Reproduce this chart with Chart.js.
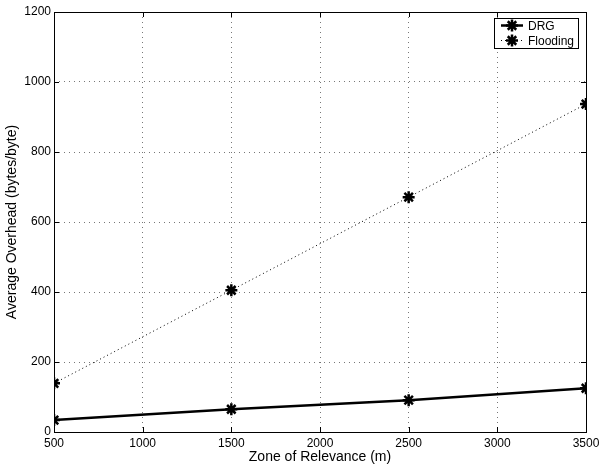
<!DOCTYPE html>
<html>
<head>
<meta charset="utf-8">
<script src="https://cdn.jsdelivr.net/npm/chart.js@4/dist/chart.umd.min.js"></script>
<style>
  html, body { margin: 0; padding: 0; background: #fff; }
  #wrap { width: 599px; height: 467px; }
</style>
</head>
<body>
<div id="wrap"><canvas id="myChart" width="599" height="467"></canvas></div>
<script>
// Data
const zones = [500, 1500, 2500, 3500];
const drgValues = [34, 65, 91, 125];
const floodingValues = [139, 405, 671, 937];
const xTicks = [500, 1000, 1500, 2000, 2500, 3000, 3500];
const yTicks = [0, 200, 400, 600, 800, 1000, 1200];

const FONT = "'Liberation Sans', Arial, Helvetica, sans-serif";

function toPoints(xs, ys) {
  return xs.map((x, i) => ({ x: x, y: ys[i] }));
}

// Frame, inward tick marks and the boxed legend
const framePlugin = {
  id: "frame",
  afterDraw(chart) {
    const ctx = chart.ctx;
    const a = chart.chartArea;
    const xs = chart.scales.x;
    const ys = chart.scales.y;
    ctx.save();
    ctx.strokeStyle = "#000";
    ctx.lineWidth = 1;
    ctx.setLineDash([]);
    ctx.strokeRect(a.left + 0.5, a.top + 0.5, a.right - a.left, a.bottom - a.top);

    // tick marks pointing inward
    ctx.beginPath();
    xTicks.forEach(v => {
      const px = Math.round(xs.getPixelForValue(v)) + 0.5;
      ctx.moveTo(px, a.bottom); ctx.lineTo(px, a.bottom - 5);
      ctx.moveTo(px, a.top); ctx.lineTo(px, a.top + 5);
    });
    yTicks.forEach(v => {
      const py = Math.round(ys.getPixelForValue(v)) + 0.5;
      ctx.moveTo(a.left, py); ctx.lineTo(a.left + 5, py);
      ctx.moveTo(a.right, py); ctx.lineTo(a.right - 5, py);
    });
    ctx.stroke();

    // legend box
    const bx = 494, by = 18, bw = 84, bh = 30;
    ctx.fillStyle = "#fff";
    ctx.fillRect(bx, by, bw, bh);
    ctx.lineWidth = 1;
    ctx.strokeRect(bx + 0.5, by + 0.5, bw, bh);

    const rows = [
      { label: "DRG", dash: [], width: 2.5, y: by + 7.5 },
      { label: "Flooding", dash: [1, 3], width: 1, y: by + 22.5 }
    ];
    rows.forEach(r => {
      ctx.strokeStyle = "#000";
      ctx.setLineDash(r.dash);
      ctx.lineWidth = r.width;
      ctx.beginPath();
      ctx.moveTo(bx + 7, r.y); ctx.lineTo(bx + 29, r.y);
      ctx.stroke();
      ctx.setLineDash([]);
      ctx.lineWidth = 2.5;
      Chart.helpers.drawPoint(ctx, { pointStyle: "star", radius: 6, rotation: 0, borderWidth: 2.5 }, bx + 18, r.y);
      ctx.fillStyle = "#000";
      ctx.font = "12px " + FONT;
      ctx.textBaseline = "middle";
      ctx.textAlign = "left";
      ctx.fillText(r.label, bx + 34, r.y + 1);
    });
    ctx.restore();
  }
};

new Chart(document.getElementById("myChart"), {
  type: "scatter",
  data: {
    datasets: [
      {
        label: "DRG",
        data: toPoints(zones, drgValues),
        showLine: true,
        borderColor: "#000",
        backgroundColor: "#000",
        borderWidth: 2.5,
        pointStyle: "star",
        pointRadius: 6,
        pointBorderWidth: 2.5,
        pointBorderColor: "#000"
      },
      {
        label: "Flooding",
        data: toPoints(zones, floodingValues),
        showLine: true,
        borderColor: "#000",
        backgroundColor: "#000",
        borderWidth: 1,
        borderDash: [1, 3],
        pointStyle: "star",
        pointRadius: 6,
        pointBorderWidth: 2.5,
        pointBorderColor: "#000"
      }
    ]
  },
  options: {
    responsive: false,
    animation: false,
    layout: { padding: { top: 12, right: 13, left: 0, bottom: 0 } },
    plugins: {
      legend: { display: false },
      tooltip: { enabled: false }
    },
    scales: {
      x: {
        type: "linear",
        min: 500,
        max: 3500,
        afterBuildTicks: s => { s.ticks = xTicks.map(v => ({ value: v })); },
        afterFit: s => { s.height = 35; s.paddingLeft = 0; s.paddingRight = 0; },
        grid: { color: "#777", lineWidth: 1, drawTicks: false },
        border: { display: false, dash: [1, 4] },
        ticks: { color: "#000", font: { family: FONT, size: 12 }, padding: 4, maxRotation: 0, callback: v => String(v) },
        title: { display: true, text: "Zone of Relevance (m)", color: "#000", font: { family: FONT, size: 14 }, padding: { top: 0, bottom: 1 } }
      },
      y: {
        type: "linear",
        min: 0,
        max: 1200,
        afterBuildTicks: s => { s.ticks = yTicks.map(v => ({ value: v })); },
        afterFit: s => { s.width = 54; s.paddingTop = 0; s.paddingBottom = 0; },
        grid: { color: "#777", lineWidth: 1, drawTicks: false },
        border: { display: false, dash: [1, 4] },
        ticks: { color: "#000", font: { family: FONT, size: 12 }, padding: 3, callback: v => String(v) },
        title: { display: true, text: "Average Overhead (bytes/byte)", color: "#000", font: { family: FONT, size: 14 }, padding: { top: 4, bottom: 0 } }
      }
    }
  },
  plugins: [framePlugin]
});
</script>
</body>
</html>
